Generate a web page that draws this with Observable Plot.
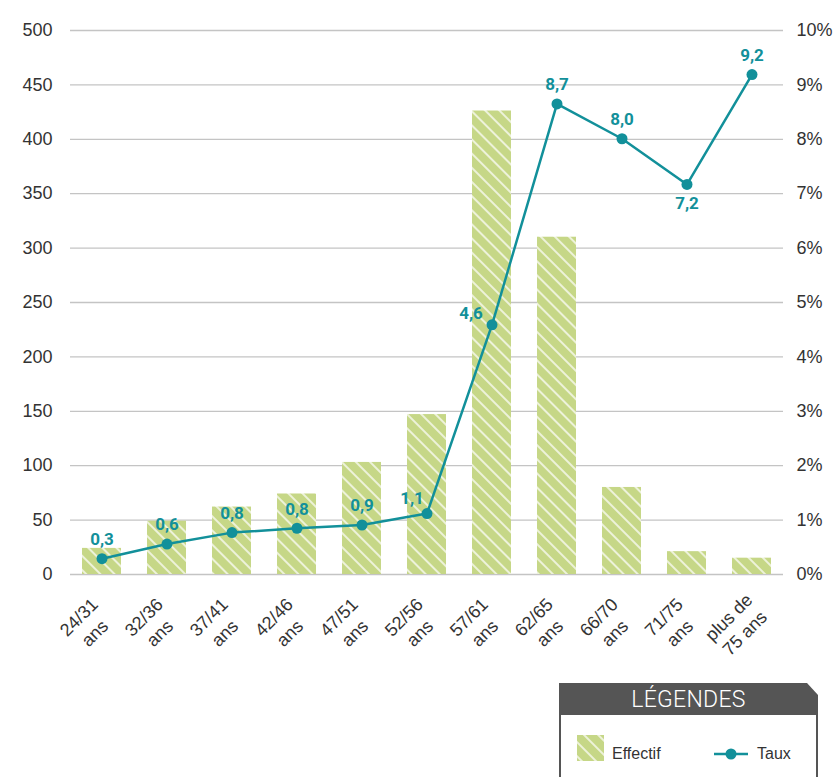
<!DOCTYPE html>
<html><head><meta charset="utf-8">
<script src="https://cdn.jsdelivr.net/npm/d3@7"></script>
<script src="https://cdn.jsdelivr.net/npm/@observablehq/plot@0.6"></script>
<style>
body{margin:0;background:#fff;font-family:"Liberation Sans",Arial,sans-serif;}
#wrap{position:relative;width:837px;height:777px;overflow:hidden;}
#legend{position:absolute;left:559px;top:683px;width:259px;}
#legend .head{height:32px;background:#555;color:#fff;font-family:Roboto,"Liberation Sans",sans-serif;font-weight:300;font-size:23px;text-align:center;line-height:33px;letter-spacing:0.3px;clip-path:polygon(0 0,248px 0,259px 12px,259px 100%,0 100%);}
#legend .body{box-sizing:border-box;height:90px;border:2px solid #555;border-top:none;position:relative;}
#legend .item{position:absolute;font-size:16px;color:#333;}
</style>
</head><body>
<div id="wrap">
  <div id="chart"></div>
  <div id="legend">
    <div class="head">LÉGENDES</div>
    <div class="body">
      <svg style="position:absolute;left:16px;top:20px" width="27" height="26">
        <defs><pattern id="hatch2" patternUnits="userSpaceOnUse" width="10" height="10" patternTransform="rotate(45)">
          <rect width="10" height="10" fill="#c6d787"></rect>
          <line x1="0" y1="5" x2="10" y2="5" stroke="#fff" stroke-width="1.4"></line>
        </pattern></defs>
        <rect width="27" height="26" fill="url(#hatch2)"></rect>
      </svg>
      <div class="item" style="left:51px;top:30px">Effectif</div>
      <svg style="position:absolute;left:153px;top:32px" width="36" height="14">
        <line x1="0" y1="7" x2="34" y2="7" stroke="#12909a" stroke-width="2.5"></line>
        <circle cx="17" cy="7" r="5.5" fill="#12909a"></circle>
      </svg>
      <div class="item" style="left:196px;top:30px">Taux</div>
    </div>
  </div>
</div>
<script>
const categories = ["24/31\nans","32/36\nans","37/41\nans","42/46\nans","47/51\nans","52/56\nans","57/61\nans","62/65\nans","66/70\nans","71/75\nans","plus de\n75 ans"];
const effectif = [24, 49, 62, 74, 103, 147, 426, 310, 80, 21, 15];
const taux = [0.29, 0.56, 0.77, 0.85, 0.91, 1.12, 4.59, 8.65, 8.01, 7.17, 9.19];
const tauxLabels = ["0,3","0,6","0,8","0,8","0,9","1,1","4,6","8,7","8,0","7,2","9,2"];
const labelPlacement = ["top","top","top","top","top","upleft","left","top","top","bottom","top"];
const leftTicks = [0,50,100,150,200,250,300,350,400,450,500];
const rightTickLabels = ["0%","1%","2%","3%","4%","5%","6%","7%","8%","9%","10%"];
const effectifMax = 500, tauxMax = 10;

const teal = "#12909a";
const idx = categories.map((_, i) => i);
const ty = i => taux[i] * effectifMax / tauxMax;

const offsets = {top: [0, -19], upleft: [-15, -15], left: [-21, -11], bottom: [0, 19]};
const labelMarks = Object.entries(offsets).map(([k, [dx, dy]]) =>
  Plot.text(idx.filter(i => labelPlacement[i] === k), {
    x: i => categories[i], y: ty, text: i => tauxLabels[i],
    dx, dy, fill: teal, fontWeight: "bold", fontSize: 17, fontFamily: "Roboto, sans-serif",
    textAnchor: "middle", lineAnchor: "middle"
  })
);

const svg = Plot.plot({
  width: 837, height: 670,
  marginLeft: 70, marginRight: 54, marginTop: 30, marginBottom: 96,
  style: {fontFamily: "'Liberation Sans', Arial, sans-serif", fontSize: "18px", color: "#333", background: "#fff"},
  x: {domain: categories, paddingInner: 0.404, paddingOuter: 0.153, axis: null},
  y: {domain: [0, effectifMax]},
  marks: [
    Plot.ruleY(leftTicks, {stroke: "#c4c4c4", strokeWidth: 1.3}),
    Plot.barY(idx, {x: i => categories[i], y: i => effectif[i], fill: "url(#hatch)"}),
    Plot.axisY(leftTicks, {anchor: "left", tickSize: 0, tickPadding: 18, fontSize: 18}),
    Plot.axisY(leftTicks, {anchor: "right", tickSize: 0, tickPadding: 13, fontSize: 18, textAnchor: "start",
      tickFormat: d => rightTickLabels[leftTicks.indexOf(d)]}),
    Plot.line(idx, {x: i => categories[i], y: ty, stroke: teal, strokeWidth: 2.5}),
    Plot.dot(idx, {x: i => categories[i], y: ty, r: 5.5, fill: teal}),
    ...labelMarks,
    Plot.text(categories, {x: d => d, frameAnchor: "bottom", rotate: -45, textAnchor: "middle", lineAnchor: "middle",
      dx: -16, dy: 50, fontSize: 18, lineHeight: 1.25, fill: "#333"})
  ]
});

const defs = d3.select(svg).insert("defs", ":first-child");
const pat = defs.append("pattern").attr("id", "hatch").attr("patternUnits", "userSpaceOnUse")
  .attr("width", 10).attr("height", 10).attr("patternTransform", "rotate(45)");
pat.append("rect").attr("width", 10).attr("height", 10).attr("fill", "#c6d787");
pat.append("line").attr("x1", 0).attr("y1", 5).attr("x2", 10).attr("y2", 5).attr("stroke", "#fff").attr("stroke-width", 1.4);

document.getElementById("chart").appendChild(svg);
</script>
</body></html>
